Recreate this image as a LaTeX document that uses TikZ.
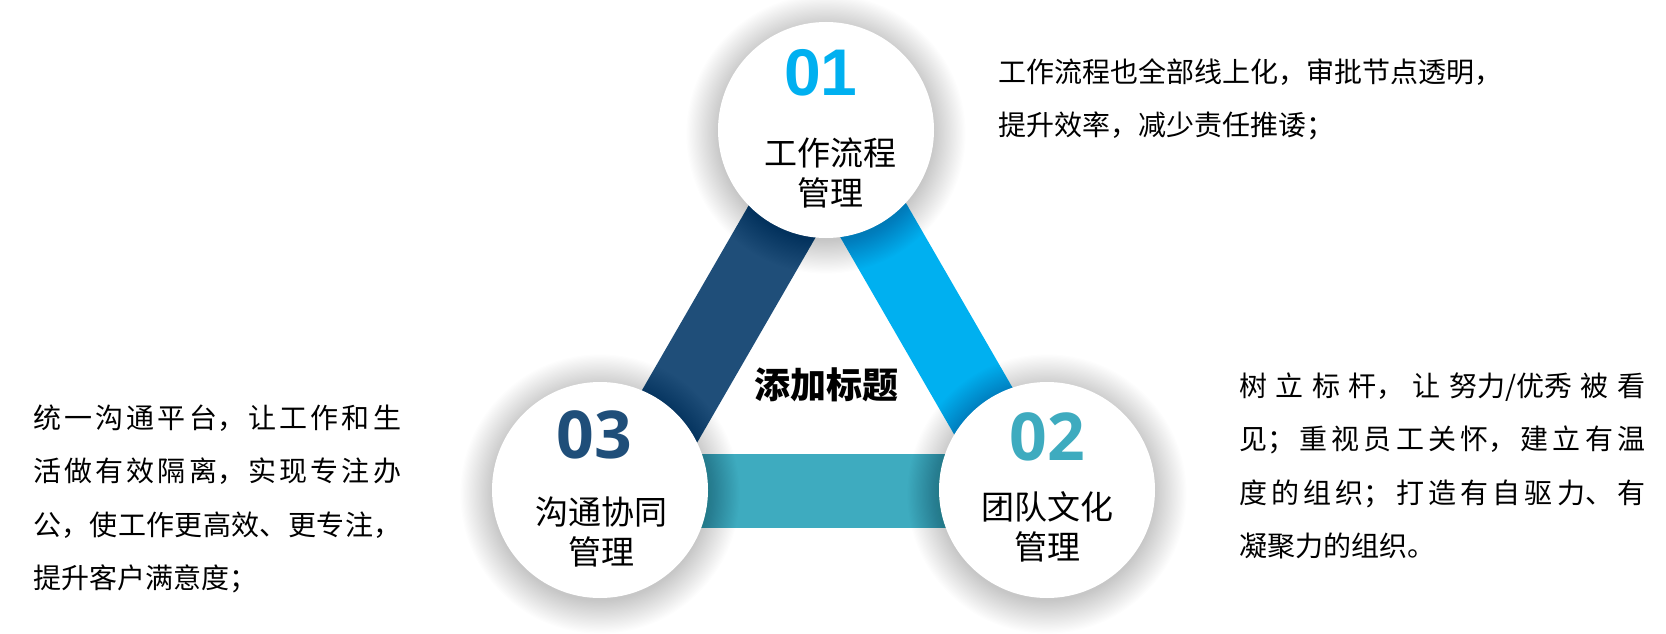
\documentclass[tikz,border=0pt]{standalone}
\usepackage{fontspec}
\setmainfont{Noto Sans CJK SC}
\newfontfamily\numA{Liberation Sans}
\newfontfamily\numB{Open Sans}
\XeTeXlinebreaklocale "zh"
\XeTeXlinebreakskip=0pt plus 8pt
\tolerance=2000
\definecolor{darkband}{RGB}{31,78,121}
\definecolor{skyband}{RGB}{0,176,240}
\definecolor{tealband}{RGB}{62,171,191}
\begin{document}
\begin{tikzpicture}[x=1pt, y=-1pt,
  band/.style={line width=74pt},
  disc/.style={circle, fill=white, minimum size=216pt, inner sep=0pt},
  num/.style={font=\fontsize{66}{66}\selectfont\bfseries},
  lbl/.style={align=center, font=\fontsize{33}{40}\selectfont},
  para/.style={anchor=base west, text width=#1, align=justify, inner sep=0pt,
    font=\fontsize{28}{53.5}\selectfont}]
\useasboundingbox (0,0) rectangle (1666,634);
% band triangle
\coordinate (t1) at (828,142);
\coordinate (t2) at (1029.5,491);
\coordinate (t3) at (626.5,491);
\draw[band, darkband] (t3) -- (t1);
\draw[band, skyband] (t1) -- (t2);
\draw[band, tealband] (t3) -- (t2);
% circle centres and soft shadows
\coordinate (p1) at (826,130);
\coordinate (p2) at (1047,490);
\coordinate (p3) at (600,490);
\foreach \c in {p1,p2,p3}
  \foreach \k in {1,...,28}
    \fill[black, opacity=0.008] ([yshift=-4pt]\c) circle ({(106+1.2*\k)*1pt});
\node[disc] (c1) at (p1) {};
\node[disc] (c2) at (p2) {};
\node[disc] (c3) at (p3) {};
% numbers and labels
\node[num, text=skyband] (n1) at (821,72.5) {\numA 01};
\node[num, text=tealband] (n2) at (1047,436.7) {\numB 02};
\node[num, text=darkband] (n3) at (594,435) {\numB 03};
\node[lbl] (l1) at (830,173) {工作流程\\管理};
\node[lbl] (l2) at (1047,526.5) {团队文化\\管理};
\node[lbl] (l3) at (601,531.7) {沟通协同\\管理};
\node[font=\fontsize{36}{36}\selectfont\bfseries] (title) at (826,385) {添加标题};
% descriptions
\node[para=560pt, align=left] (d1) at (998,82.5)
  {工作流程也全部线上化，审批节点透明，\\提升效率，减少责任推诿；};
\node[para=406pt] (d2) at (1239,396)
  {树立标杆，让努\mbox{力/优}秀被看\linebreak 见；重视员工关怀，建立有温\linebreak 度的组织；打造有自驱力、有\linebreak 凝聚力的组织。};
\node[para=368pt] (d3) at (33,428)
  {统一沟通平台，让工作和生\linebreak 活做有效隔离，实现专注办\linebreak 公，使工作更高效、更专注，\linebreak 提升客户满意度；};
\end{tikzpicture}
\end{document}
